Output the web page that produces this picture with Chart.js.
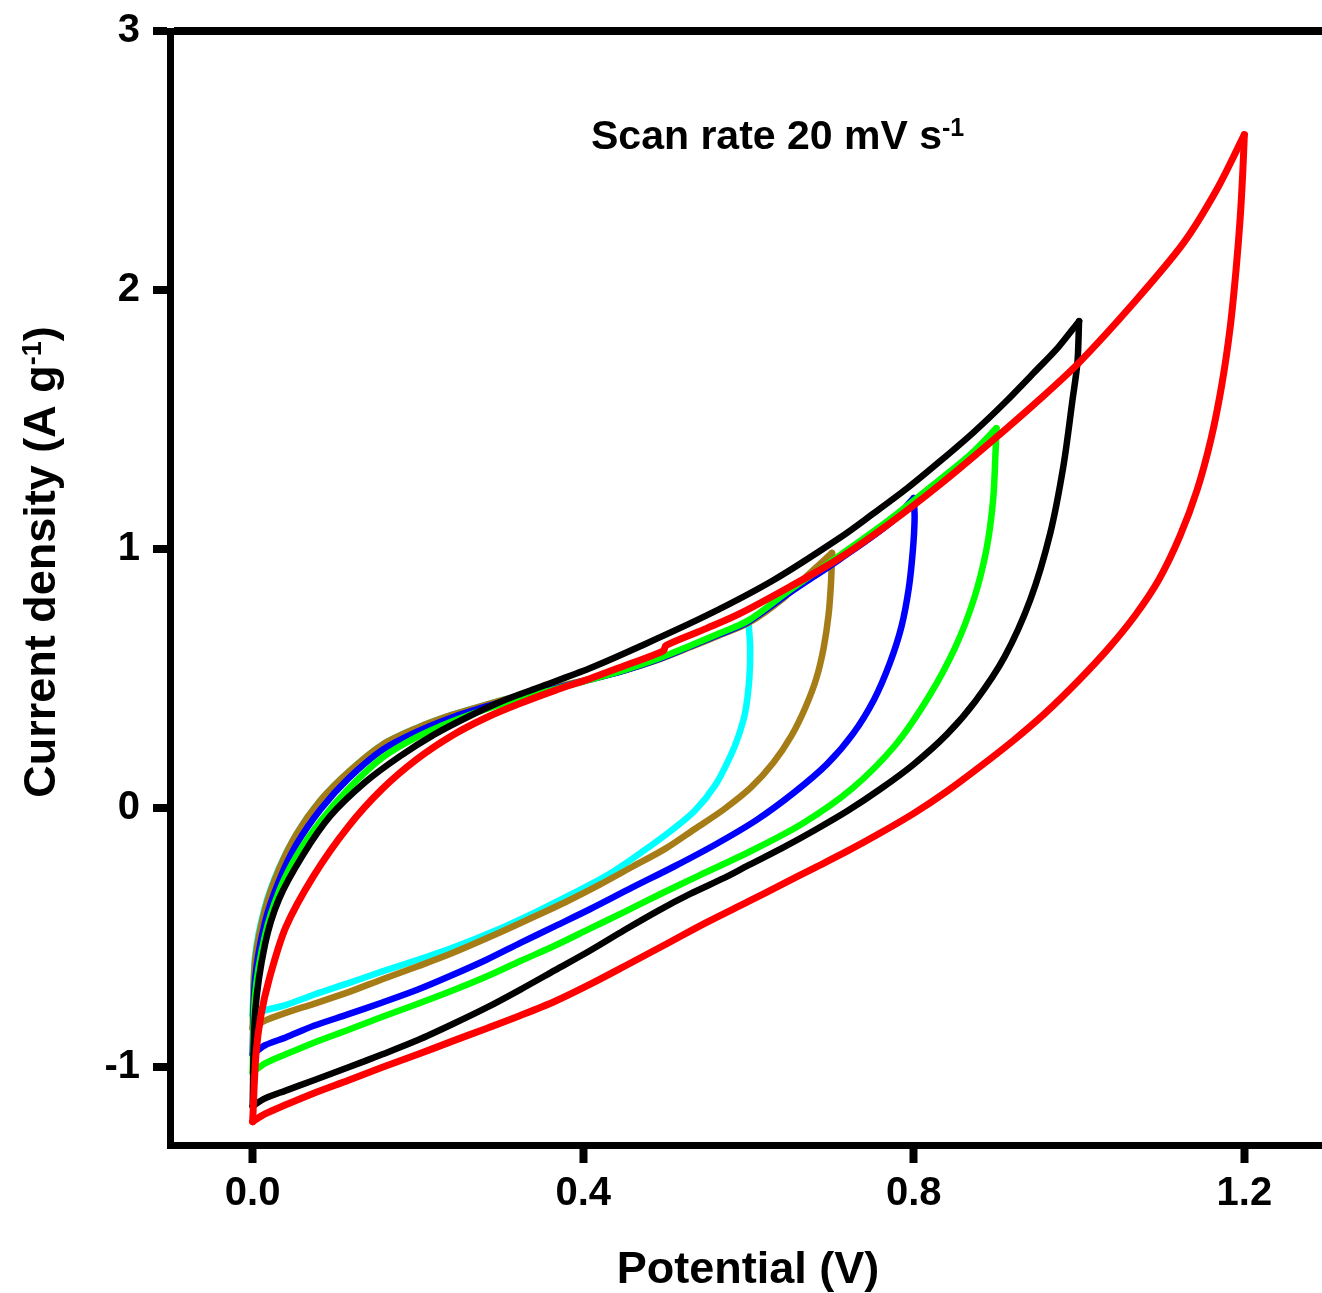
<!DOCTYPE html>
<html lang="en">
<head>
    <meta charset="UTF-8">
    <title>Scan rate 20 mV s-1</title>
    <script src="https://cdn.jsdelivr.net/npm/chart.js"></script>
    <style>
        html, body { margin: 0; padding: 0; background: #fff; overflow: hidden; }
        .chart-container { position: relative; width: 1327px; height: 1293px; }
    </style>
</head>
<body>
    <div class="chart-container">
        <canvas id="cvChart"></canvas>
    </div>

    <script>
        // anodic sweep (0 -> Vmax) and cathodic sweep (Vmax -> 0) for each window
        const cyanUpV = [0, 0.003, 0.015, 0.032, 0.053, 0.082, 0.116, 0.157, 0.199, 0.241, 0.283, 0.324, 0.366, 0.408, 0.45, 0.491, 0.53, 0.565, 0.6];
        const cyanUpI = [-0.80, -0.57, -0.38, -0.23, -0.10, 0.03, 0.14, 0.245, 0.31, 0.36, 0.40, 0.435, 0.467, 0.498, 0.532, 0.575, 0.625, 0.672, 0.72];
        const cyanDownV = [0.6, 0.602, 0.601, 0.596, 0.588, 0.578, 0.56, 0.535, 0.505, 0.475, 0.431, 0.387, 0.343, 0.299, 0.241, 0.2, 0.157, 0.116, 0.074, 0.04, 0.015, 0];
        const cyanDownI = [0.72, 0.62, 0.50, 0.37, 0.28, 0.20, 0.09, -0.01, -0.09, -0.16, -0.255, -0.33, -0.40, -0.465, -0.54, -0.585, -0.63, -0.675, -0.72, -0.76, -0.78, -0.80];

        const brownUpV = [0, 0.003, 0.015, 0.032, 0.053, 0.082, 0.116, 0.157, 0.199, 0.241, 0.283, 0.324, 0.366, 0.408, 0.45, 0.491, 0.53, 0.565, 0.6, 0.642, 0.67, 0.701];
        const brownUpI = [-0.85, -0.59, -0.39, -0.235, -0.10, 0.03, 0.14, 0.245, 0.31, 0.36, 0.40, 0.435, 0.467, 0.498, 0.532, 0.573, 0.622, 0.668, 0.715, 0.81, 0.895, 0.985];
        const brownDownV = [0.701, 0.700, 0.697, 0.691, 0.682, 0.669, 0.652, 0.63, 0.603, 0.57, 0.535, 0.5, 0.46, 0.42, 0.38, 0.34, 0.299, 0.241, 0.2, 0.157, 0.116, 0.074, 0.04, 0.015, 0];
        const brownDownI = [0.985, 0.88, 0.75, 0.62, 0.50, 0.39, 0.28, 0.175, 0.08, -0.005, -0.08, -0.155, -0.225, -0.295, -0.36, -0.42, -0.48, -0.56, -0.61, -0.66, -0.71, -0.755, -0.79, -0.82, -0.85];

        const blueUpV = [0, 0.003, 0.015, 0.032, 0.053, 0.082, 0.116, 0.157, 0.199, 0.241, 0.283, 0.324, 0.366, 0.408, 0.45, 0.491, 0.53, 0.565, 0.6, 0.65, 0.71, 0.771, 0.8];
        const blueUpI = [-0.95, -0.66, -0.44, -0.28, -0.14, -0.005, 0.115, 0.225, 0.295, 0.35, 0.393, 0.43, 0.463, 0.496, 0.532, 0.575, 0.625, 0.671, 0.72, 0.832, 0.96, 1.10, 1.197];
        const blueDownV = [0.8, 0.801, 0.799, 0.794, 0.785, 0.771, 0.752, 0.727, 0.695, 0.655, 0.61, 0.56, 0.51, 0.46, 0.408, 0.366, 0.324, 0.283, 0.241, 0.2, 0.157, 0.116, 0.074, 0.04, 0.015, 0];
        const blueDownI = [1.197, 1.12, 1.0, 0.85, 0.70, 0.56, 0.42, 0.29, 0.17, 0.06, -0.045, -0.14, -0.225, -0.305, -0.39, -0.455, -0.52, -0.585, -0.645, -0.70, -0.75, -0.795, -0.84, -0.885, -0.915, -0.95];

        const greenUpV = [0, 0.003, 0.015, 0.032, 0.053, 0.082, 0.116, 0.157, 0.199, 0.241, 0.283, 0.324, 0.366, 0.408, 0.45, 0.491, 0.53, 0.565, 0.6, 0.65, 0.71, 0.771, 0.832, 0.87, 0.9];
        const greenUpI = [-1.02, -0.72, -0.49, -0.32, -0.185, -0.05, 0.075, 0.195, 0.275, 0.335, 0.383, 0.424, 0.46, 0.496, 0.534, 0.578, 0.628, 0.675, 0.725, 0.842, 0.975, 1.115, 1.27, 1.37, 1.467];
        const greenDownV = [0.9, 0.899, 0.896, 0.888, 0.873, 0.85, 0.818, 0.778, 0.725, 0.665, 0.6, 0.54, 0.491, 0.45, 0.408, 0.366, 0.324, 0.283, 0.241, 0.2, 0.157, 0.116, 0.074, 0.04, 0.015, 0];
        const greenDownI = [1.467, 1.38, 1.19, 1.0, 0.81, 0.62, 0.43, 0.245, 0.075, -0.06, -0.17, -0.26, -0.335, -0.40, -0.465, -0.53, -0.59, -0.65, -0.705, -0.755, -0.805, -0.855, -0.905, -0.95, -0.985, -1.02];

        const blackUpV = [0, 0.003, 0.015, 0.032, 0.061, 0.094, 0.136, 0.178, 0.22, 0.262, 0.303, 0.345, 0.408, 0.469, 0.55, 0.63, 0.711, 0.75, 0.792, 0.832, 0.872, 0.91, 0.945, 0.975, 1.0];
        const blackUpI = [-1.15, -0.79, -0.525, -0.35, -0.18, -0.03, 0.10, 0.20, 0.285, 0.355, 0.415, 0.465, 0.54, 0.625, 0.745, 0.88, 1.045, 1.135, 1.235, 1.34, 1.45, 1.565, 1.68, 1.78, 1.88];
        const blackDownV = [1.0, 0.998, 0.992, 0.981, 0.965, 0.941, 0.91, 0.875, 0.84, 0.8, 0.76, 0.72, 0.68, 0.64, 0.6, 0.57, 0.53, 0.491, 0.45, 0.408, 0.366, 0.324, 0.283, 0.241, 0.2, 0.157, 0.116, 0.074, 0.04, 0.015, 0];
        const blackDownI = [1.88, 1.72, 1.575, 1.32, 1.06, 0.805, 0.585, 0.415, 0.285, 0.17, 0.075, -0.01, -0.085, -0.155, -0.22, -0.27, -0.33, -0.395, -0.47, -0.55, -0.625, -0.70, -0.77, -0.835, -0.895, -0.95, -1.0, -1.05, -1.09, -1.12, -1.15];

        const redUpV = [0, 0.004, 0.01, 0.02, 0.04, 0.074, 0.116, 0.157, 0.199, 0.241, 0.283, 0.324, 0.366, 0.408, 0.45, 0.497, 0.5, 0.55, 0.59, 0.65, 0.71, 0.771, 0.832, 0.892, 0.953, 1.0, 1.066, 1.126, 1.167, 1.2];
        const redUpI = [-1.21, -0.95, -0.80, -0.66, -0.46, -0.26, -0.07, 0.075, 0.19, 0.28, 0.35, 0.405, 0.455, 0.50, 0.55, 0.607, 0.628, 0.695, 0.752, 0.855, 0.965, 1.10, 1.25, 1.41, 1.58, 1.72, 1.95, 2.18, 2.39, 2.6];
        const redDownV = [1.2, 1.198, 1.195, 1.19, 1.183, 1.173, 1.16, 1.143, 1.122, 1.097, 1.068, 1.035, 1.0, 0.96, 0.92, 0.88, 0.84, 0.8, 0.76, 0.72, 0.68, 0.64, 0.6, 0.55, 0.5, 0.45, 0.408, 0.366, 0.324, 0.283, 0.241, 0.2, 0.157, 0.116, 0.074, 0.04, 0.015, 0];
        const redDownI = [2.6, 2.45, 2.28, 2.08, 1.86, 1.64, 1.43, 1.23, 1.05, 0.885, 0.745, 0.615, 0.495, 0.37, 0.26, 0.16, 0.065, -0.02, -0.095, -0.165, -0.23, -0.295, -0.36, -0.44, -0.525, -0.61, -0.68, -0.745, -0.80, -0.85, -0.90, -0.95, -1.0, -1.05, -1.10, -1.145, -1.18, -1.21];

        const xTicks = [0, 0.4, 0.8, 1.2];
        const yTicks = [-1, 0, 1, 2, 3];

        const FONT = '"Liberation Sans", Arial, sans-serif';

        function toPoints(v, i) {
            return v.map((x, k) => ({ x: x, y: i[k] }));
        }

        function branch(v, i, color, width) {
            return {
                data: toPoints(v, i),
                borderColor: color,
                borderWidth: width,
                showLine: true,
                pointRadius: 0,
                tension: 0.3,
                borderCapStyle: 'round',
                borderJoinStyle: 'round'
            };
        }

        // draws text then a raised superscript, returns the x where it ends
        function textWithSup(ctx, text, sup, x, y, size, supSize, rise) {
            ctx.font = 'bold ' + size + 'px ' + FONT;
            ctx.fillText(text, x, y);
            let w = ctx.measureText(text).width;
            ctx.font = 'bold ' + supSize + 'px ' + FONT;
            ctx.fillText(sup, x + w, y - rise);
            return x + w + ctx.measureText(sup).width;
        }

        const labelsPlugin = {
            id: 'labels',
            afterDraw(chart) {
                const ctx = chart.ctx;
                ctx.save();
                ctx.fillStyle = '#000';
                ctx.textAlign = 'left';
                ctx.textBaseline = 'alphabetic';

                textWithSup(ctx, 'Scan rate 20 mV s', '-1', 591, 149, 41, 25, 13);

                ctx.font = 'bold 45px ' + FONT;
                ctx.textAlign = 'center';
                ctx.fillText('Potential (V)', 748, 1283);

                // y title, rotated
                ctx.textAlign = 'left';
                ctx.translate(55, 562);
                ctx.rotate(-Math.PI / 2);
                ctx.font = 'bold 45px ' + FONT;
                const w1 = ctx.measureText('Current density (A g').width;
                const w3 = ctx.measureText(')').width;
                ctx.font = 'bold 27px ' + FONT;
                const w2 = ctx.measureText('-1').width;
                const start = -(w1 + w2 + w3) / 2;
                const end = textWithSup(ctx, 'Current density (A g', '-1', start, 0, 45, 27, 14);
                ctx.font = 'bold 45px ' + FONT;
                ctx.fillText(')', end, 0);
                ctx.restore();
            }
        };

        const ctxCv = document.getElementById('cvChart').getContext('2d');
        const cvChart = new Chart(ctxCv, {
            type: 'scatter',
            data: {
                // first dataset is drawn last (on top)
                datasets: [
                    branch(redUpV, redUpI, '#ff0000', 7),
                    branch(redDownV, redDownI, '#ff0000', 7),
                    branch(blackUpV, blackUpI, '#000000', 6.5),
                    branch(blackDownV, blackDownI, '#000000', 6.5),
                    branch(greenUpV, greenUpI, '#00ff00', 6.5),
                    branch(greenDownV, greenDownI, '#00ff00', 6.5),
                    branch(blueUpV, blueUpI, '#0000ff', 6.5),
                    branch(blueDownV, blueDownI, '#0000ff', 6.5),
                    branch(brownUpV, brownUpI, '#a67c17', 6.5),
                    branch(brownDownV, brownDownI, '#a67c17', 6.5),
                    branch(cyanUpV, cyanUpI, '#00ffff', 6.5),
                    branch(cyanDownV, cyanDownI, '#00ffff', 6.5)
                ]
            },
            options: {
                responsive: true,
                maintainAspectRatio: false,
                animation: false,
                devicePixelRatio: 1,
                layout: { padding: { top: 0, right: 0, bottom: 0, left: 0 } },
                plugins: {
                    legend: { display: false },
                    tooltip: { enabled: false }
                },
                scales: {
                    x: {
                        type: 'linear',
                        min: -0.1,
                        max: 1.3,
                        afterBuildTicks: scale => { scale.ticks = xTicks.map(v => ({ value: v })); },
                        afterFit: scale => { scale.height = 148; },
                        border: { display: true, color: '#000', width: 7 },
                        grid: { drawOnChartArea: false, tickColor: '#000', tickWidth: 8, tickLength: 18 },
                        ticks: {
                            color: '#000',
                            padding: 7,
                            maxRotation: 0,
                            font: { family: FONT, size: 40, weight: 'bold' },
                            callback: v => v.toFixed(1)
                        }
                    },
                    y: {
                        type: 'linear',
                        min: -1.3,
                        max: 3,
                        afterBuildTicks: scale => { scale.ticks = yTicks.map(v => ({ value: v })); },
                        afterFit: scale => { scale.width = 170; },
                        border: { display: true, color: '#000', width: 7 },
                        grid: {
                            color: c => (c.tick && c.tick.value === 3 ? '#000' : 'rgba(0,0,0,0)'),
                            lineWidth: 8,
                            tickColor: '#000',
                            tickWidth: 8,
                            tickLength: 17
                        },
                        ticks: {
                            color: '#000',
                            padding: 13,
                            // lineHeight keeps the top label overflow at 31px, so the frame sits at y = 3
                            font: { family: FONT, size: 40, weight: 'bold', lineHeight: 0.9 },
                            callback: v => String(v)
                        }
                    }
                }
            },
            plugins: [labelsPlugin]
        });
    </script>
</body>
</html>
